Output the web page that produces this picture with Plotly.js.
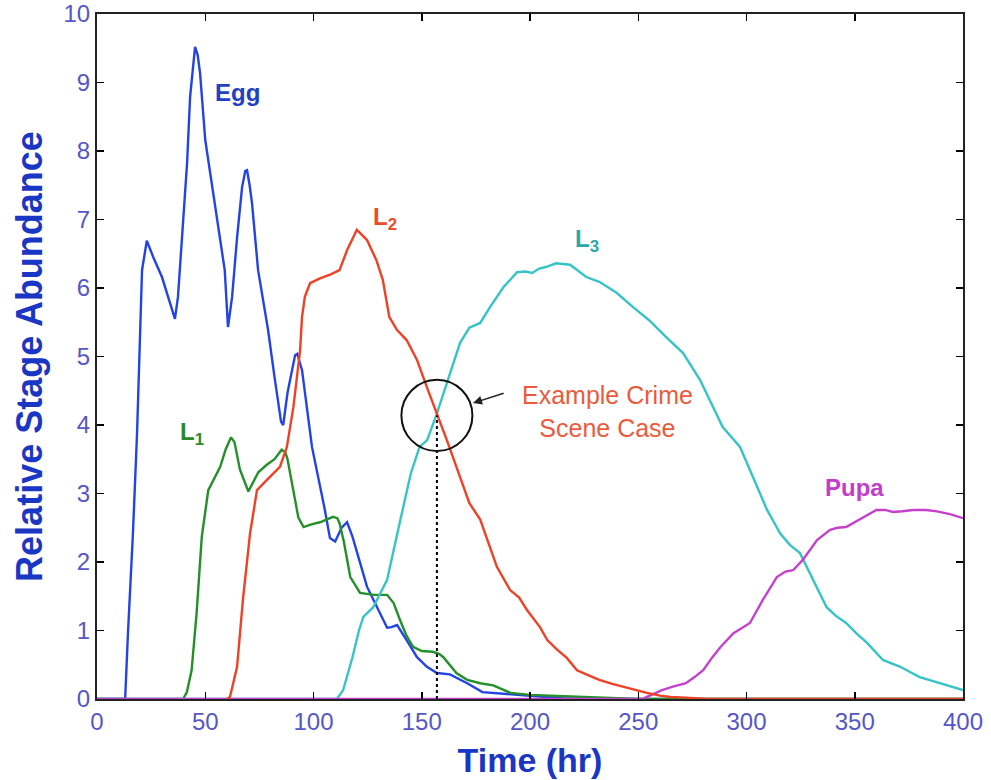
<!DOCTYPE html>
<html>
<head>
<meta charset="utf-8">
<script src="https://cdn.plot.ly/plotly-3.0.1.min.js"></script>
<style>html,body{margin:0;padding:0;background:#fff;}#chart{width:991px;height:780px;}</style>
</head>
<body>
<div id="chart"></div>
<script>
// Time (hr) and relative abundance for each stage
const eggX = [0,12,13,14.3,16.6,18.5,20,20.8,23,26,30,33,36,37.4,39.7,41.6,43,44.5,45.3,46.5,47.6,50,54.5,59,60.5,62.4,64.7,67,68.5,69.3,70.5,71.6,74.4,79,82,85,86,88,91.5,92.5,94.7,99.3,105,107.6,110,113,115.5,118,124.7,130.7,134,136,138.6,143,147.8,152.4,157,163,167,171,178,186,195,205,215,230,400];
const eggY = [0,0,0,0.96,2.42,3.88,5.34,6.26,6.69,6.45,6.16,5.85,5.55,5.87,6.99,7.82,8.79,9.35,9.52,9.4,9.14,8.16,7.24,6.26,5.43,5.87,6.74,7.47,7.71,7.72,7.5,7.24,6.26,5.39,4.7,4.05,4.0,4.47,5.02,5.04,4.8,3.68,2.8,2.35,2.3,2.5,2.58,2.37,1.64,1.26,1.04,1.05,1.08,0.86,0.61,0.47,0.38,0.36,0.3,0.23,0.1,0.08,0.06,0.03,0.01,0,0];

const l1X = [0,39.8,41.5,43.7,46,48.4,51.4,54,56.9,59.5,61.9,63.5,66,69.9,72,74.5,78.4,82,85.3,87,88,90.7,93,95.4,99,103,109,111,112,114,117,121.5,128,134,137,140,143,146,150,155,158,160,163,166,171,177,183,191,200,210,220,235,250,400];
const l1Y = [0,0,0.1,0.42,1.25,2.37,3.05,3.2,3.39,3.65,3.82,3.75,3.35,3.03,3.15,3.31,3.42,3.5,3.64,3.6,3.5,3.05,2.65,2.51,2.55,2.58,2.66,2.64,2.57,2.3,1.78,1.55,1.52,1.52,1.4,1.15,0.92,0.76,0.7,0.69,0.66,0.61,0.5,0.38,0.28,0.23,0.2,0.09,0.06,0.05,0.04,0.02,0,0];

const l2X = [60,61.4,64.7,67.4,70.7,73.9,78.5,84.5,87.7,90.7,93.8,94.7,96,98.4,103,108,112,115.5,120,124.7,129,132,135,138.5,143,147.8,152.4,157,161.6,167.7,172,177,180,184.7,190.8,195,198.6,204.6,208,212.5,217,221.7,226,232,238,244.8,254,260,265,272,282,400];
const l2Y = [0,0.03,0.47,1.45,2.42,3.05,3.2,3.39,3.68,4.26,5.09,5.58,5.87,6.07,6.14,6.2,6.26,6.55,6.85,6.7,6.41,6.12,5.58,5.39,5.24,4.95,4.55,4.17,3.78,3.24,2.86,2.62,2.35,1.93,1.59,1.48,1.3,1.05,0.86,0.72,0.6,0.42,0.36,0.28,0.22,0.16,0.09,0.05,0.03,0.02,0,0];

const l3X = [0,110.8,113.7,118,121,123,127.6,134,140,145,149,152.5,157,163,167.7,172,177,181.5,187.7,194,198,201,204,207.6,212,218.5,222,226,232,240,247.6,255,263,270.7,278.5,284,289,297,303,309.5,315.5,320,324.7,330.7,337,341,346,351,355.7,363,371,380,389,400];
const l3Y = [0,0,0.13,0.61,1.0,1.2,1.34,1.74,2.6,3.3,3.68,3.78,4.17,4.76,5.2,5.42,5.49,5.72,6.01,6.23,6.24,6.22,6.28,6.31,6.36,6.34,6.25,6.16,6.09,5.93,5.72,5.53,5.28,5.05,4.66,4.3,3.97,3.68,3.24,2.76,2.42,2.25,2.13,1.74,1.34,1.22,1.11,0.95,0.82,0.57,0.47,0.32,0.23,0.13];

const pupaX = [0,252,254,261,266,272,276,280,284,288,294,301.6,307.6,314,318,321.5,326,332.6,338.6,342,346,354,360,364,367.6,372,377,383,388,394,400];
const pupaY = [0,0,0.03,0.13,0.18,0.23,0.32,0.42,0.6,0.76,0.96,1.11,1.45,1.78,1.86,1.88,2.03,2.32,2.47,2.5,2.51,2.66,2.76,2.76,2.73,2.74,2.76,2.76,2.74,2.7,2.64];

const xTicks = [0,50,100,150,200,250,300,350,400];
const yTicks = [0,1,2,3,4,5,6,7,8,9,10];
const caseTime = 157;
const caseValue = 4.14;

const FONT = 'Liberation Sans, Arial, sans-serif';
const line = (x, y, color, name) => ({x, y, type:'scatter', mode:'lines', name,
  line:{color, width:2.4}, hoverinfo:'x+y+name'});

const traces = [
  line(eggX, eggY, '#2343e6', 'Egg'),
  line(l1X, l1Y, '#23902a', 'L1'),
  line(l3X, l3Y, '#36c4c8', 'L3'),
  line(pupaX, pupaY, '#c540cc', 'Pupa'),
  line(l2X, l2Y, '#ee4126', 'L2')
];

const lab = (x, y, text, color) => ({x, y, xref:'x', yref:'y', text, showarrow:false,
  font:{family:FONT, size:24, color, weight:'bold'}});

const layout = {
  width:991, height:780,
  margin:{l:97, r:28, t:14, b:81},
  paper_bgcolor:'#fff', plot_bgcolor:'#fff',
  showlegend:false,
  xaxis:{range:[0,400], tickvals:xTicks, ticks:'inside', ticklen:7, tickcolor:'#000', tickwidth:1.5,
    showline:true, linecolor:'#222', linewidth:2, mirror:'ticks', showgrid:false, zeroline:false,
    tickfont:{family:FONT, size:24, color:'#5656c8'},
    title:{text:'Time (hr)', font:{family:FONT, size:34, color:'#1a36c4', weight:'bold'}, standoff:14}},
  yaxis:{range:[0,10], tickvals:yTicks, ticks:'inside', ticklen:7, tickcolor:'#000', tickwidth:1.5,
    showline:true, linecolor:'#222', linewidth:2, mirror:'ticks', showgrid:false, zeroline:false,
    tickfont:{family:FONT, size:24, color:'#5656c8'},
    title:{text:'Relative Stage Abundance', font:{family:FONT, size:36, color:'#1a36c4', weight:'bold'}, standoff:10}},
  shapes:[
    {type:'line', xref:'x', yref:'y', x0:caseTime, x1:caseTime, y0:0, y1:caseValue,
     line:{color:'#000', width:2, dash:'dot'}},
    {type:'circle', xref:'x', yref:'y', x0:caseTime-16.4, x1:caseTime+16.4, y0:caseValue-0.52, y1:caseValue+0.52,
     line:{color:'#111', width:2}}
  ],
  annotations:[
    lab(65.1, 8.85, 'Egg', '#2140c4'),
    lab(43.9, 3.88, 'L<sub>1</sub>', '#2a8a2a'),
    lab(133, 7.02, 'L<sub>2</sub>', '#ee4a2a'),
    lab(226.3, 6.7, 'L<sub>3</sub>', '#28a8a8'),
    lab(350, 3.09, 'Pupa', '#c43ccc'),
    {x:236, y:4.19, xref:'x', yref:'y', text:'Example Crime<br>Scene Case', showarrow:false,
     font:{family:FONT, size:25, color:'#ec5a3c'}},
    {x:173.7, y:4.32, xref:'x', yref:'y', ax:188.5, ay:4.47, axref:'x', ayref:'y', text:'',
     showarrow:true, arrowhead:2, arrowsize:1.2, arrowwidth:1.5, arrowcolor:'#222'}
  ]
};

Plotly.newPlot('chart', traces, layout, {staticPlot:true});
</script>
</body>
</html>
